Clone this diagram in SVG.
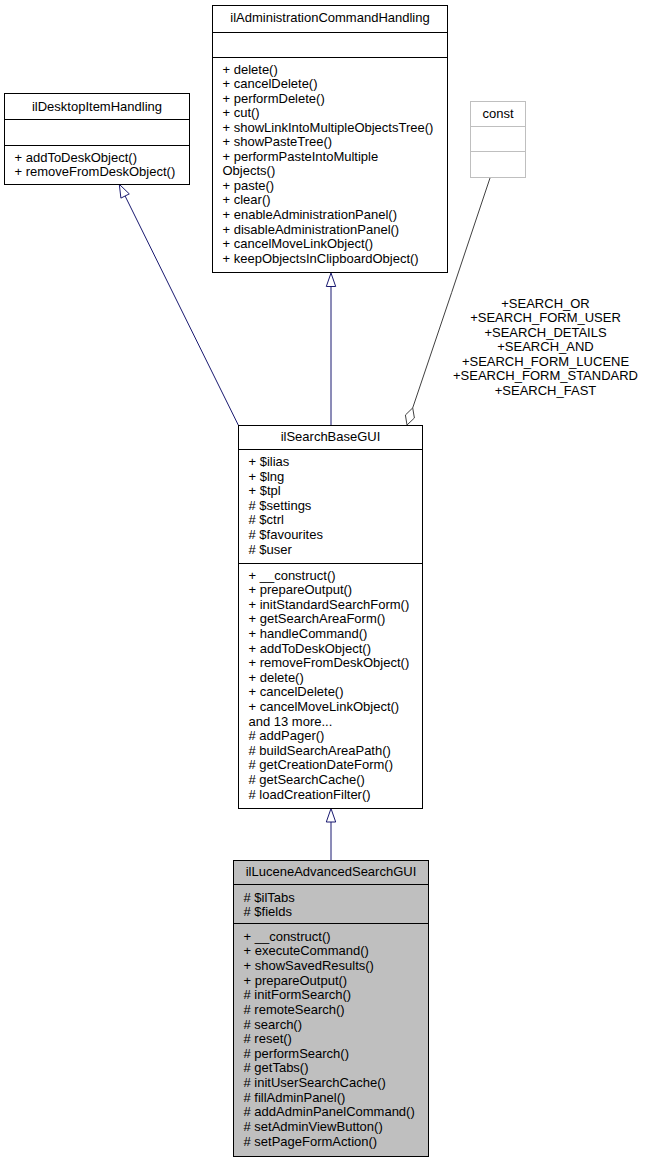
<svg xmlns="http://www.w3.org/2000/svg" width="648" height="1161" viewBox="0 0 648 1161">
<style>
text{font-family:"Liberation Sans",Arial,Helvetica,sans-serif;font-size:13px;fill:#000}
.c{text-anchor:middle}
.box{fill:#fff;stroke:#000;stroke-width:1}
.sep{stroke:#000;stroke-width:1}
.cur{fill:#bfbfbf;stroke:#000;stroke-width:1}
.gbox{fill:#fff;stroke:#bfbfbf;stroke-width:1}
.gsep{stroke:#bfbfbf;stroke-width:1}
.inh{stroke:#191970;stroke-width:1;fill:none}
.inhh{stroke:#191970;stroke-width:1;fill:#fff}
.use{stroke:#404040;stroke-width:1;fill:none}
.useh{stroke:#404040;stroke-width:1;fill:#fff}
</style>
<rect width="648" height="1161" fill="#fff"/>
<g id="connectors">
<line class="inh" x1="331" y1="860.5" x2="331" y2="822"/>
<polygon class="inhh" points="331,808.5 326.3,822 335.7,822"/>
<line class="inh" x1="331" y1="425.5" x2="331" y2="286.5"/>
<polygon class="inhh" points="331,273 326.3,286.5 335.7,286.5"/>
<line class="inh" x1="238.5" y1="425.5" x2="125.1" y2="196"/>
<polygon class="inhh" points="119.3,184.3 129.3,193.9 120.9,198.1"/>
<path class="use" d="M490,178 Q452,292 412.7,407.9"/>
<polygon class="useh" points="407,425 414.4,418 412.7,407.9 405.4,415"/>
<text class="c" x="545.5" y="307.5">+SEARCH_OR</text>
<text class="c" x="545.5" y="322">+SEARCH_FORM_USER</text>
<text class="c" x="545.5" y="336.6">+SEARCH_DETAILS</text>
<text class="c" x="545.5" y="351.1">+SEARCH_AND</text>
<text class="c" x="545.5" y="365.7">+SEARCH_FORM_LUCENE</text>
<text class="c" x="545.5" y="380.2">+SEARCH_FORM_STANDARD</text>
<text class="c" x="545.5" y="394.8">+SEARCH_FAST</text>
</g>
<g id="ilAdministrationCommandHandling">
<rect class="box" x="212.5" y="5.5" width="235" height="267"/>
<line class="sep" x1="212.5" y1="32.5" x2="447.5" y2="32.5"/>
<line class="sep" x1="212.5" y1="57.5" x2="447.5" y2="57.5"/>
<text class="c" x="330" y="22">ilAdministrationCommandHandling</text>
<text x="222.5" y="73.5">+ delete()</text>
<text x="222.5" y="88.05">+ cancelDelete()</text>
<text x="222.5" y="102.6">+ performDelete()</text>
<text x="222.5" y="117.15">+ cut()</text>
<text x="222.5" y="131.7">+ showLinkIntoMultipleObjectsTree()</text>
<text x="222.5" y="146.25">+ showPasteTree()</text>
<text x="222.5" y="160.8">+ performPasteIntoMultiple</text>
<text x="222.5" y="175.35">Objects()</text>
<text x="222.5" y="189.9">+ paste()</text>
<text x="222.5" y="204.45">+ clear()</text>
<text x="222.5" y="219">+ enableAdministrationPanel()</text>
<text x="222.5" y="233.55">+ disableAdministrationPanel()</text>
<text x="222.5" y="248.1">+ cancelMoveLinkObject()</text>
<text x="222.5" y="262.65">+ keepObjectsInClipboardObject()</text>
</g>
<g id="ilDesktopItemHandling">
<rect class="box" x="4.5" y="93.5" width="185" height="91"/>
<line class="sep" x1="4.5" y1="119.5" x2="189.5" y2="119.5"/>
<line class="sep" x1="4.5" y1="145.5" x2="189.5" y2="145.5"/>
<text class="c" x="97" y="110.5">ilDesktopItemHandling</text>
<text x="14.5" y="161.5">+ addToDeskObject()</text>
<text x="14.5" y="176">+ removeFromDeskObject()</text>
</g>
<g id="const">
<rect class="gbox" x="470.5" y="101.5" width="55" height="76"/>
<line class="gsep" x1="470.5" y1="126.5" x2="525.5" y2="126.5"/>
<line class="gsep" x1="470.5" y1="151.5" x2="525.5" y2="151.5"/>
<text class="c" x="498" y="117.5">const</text>
</g>
<g id="ilSearchBaseGUI">
<rect class="box" x="238.5" y="425.5" width="184" height="383"/>
<line class="sep" x1="238.5" y1="449.5" x2="422.5" y2="449.5"/>
<line class="sep" x1="238.5" y1="563.5" x2="422.5" y2="563.5"/>
<text class="c" x="330.5" y="441">ilSearchBaseGUI</text>
<text x="248.5" y="466">+ $ilias</text>
<text x="248.5" y="480.6">+ $lng</text>
<text x="248.5" y="495.2">+ $tpl</text>
<text x="248.5" y="509.8"># $settings</text>
<text x="248.5" y="524.4"># $ctrl</text>
<text x="248.5" y="539"># $favourites</text>
<text x="248.5" y="553.6"># $user</text>
<text x="248.5" y="579.5">+ __construct()</text>
<text x="248.5" y="594.1">+ prepareOutput()</text>
<text x="248.5" y="608.7">+ initStandardSearchForm()</text>
<text x="248.5" y="623.3">+ getSearchAreaForm()</text>
<text x="248.5" y="637.9">+ handleCommand()</text>
<text x="248.5" y="652.5">+ addToDeskObject()</text>
<text x="248.5" y="667.1">+ removeFromDeskObject()</text>
<text x="248.5" y="681.7">+ delete()</text>
<text x="248.5" y="696.3">+ cancelDelete()</text>
<text x="248.5" y="710.9">+ cancelMoveLinkObject()</text>
<text x="248.5" y="725.5">and 13 more...</text>
<text x="248.5" y="740.1"># addPager()</text>
<text x="248.5" y="754.7"># buildSearchAreaPath()</text>
<text x="248.5" y="769.3"># getCreationDateForm()</text>
<text x="248.5" y="783.9"># getSearchCache()</text>
<text x="248.5" y="798.5"># loadCreationFilter()</text>
</g>
<g id="ilLuceneAdvancedSearchGUI">
<rect class="cur" x="233.5" y="860.5" width="195" height="296"/>
<line class="sep" x1="233.5" y1="884.5" x2="428.5" y2="884.5"/>
<line class="sep" x1="233.5" y1="923.5" x2="428.5" y2="923.5"/>
<text class="c" x="331" y="876">ilLuceneAdvancedSearchGUI</text>
<text x="243.5" y="901.5"># $ilTabs</text>
<text x="243.5" y="916"># $fields</text>
<text x="243.5" y="940.7">+ __construct()</text>
<text x="243.5" y="955.34">+ executeCommand()</text>
<text x="243.5" y="969.98">+ showSavedResults()</text>
<text x="243.5" y="984.62">+ prepareOutput()</text>
<text x="243.5" y="999.26"># initFormSearch()</text>
<text x="243.5" y="1013.9"># remoteSearch()</text>
<text x="243.5" y="1028.54"># search()</text>
<text x="243.5" y="1043.18"># reset()</text>
<text x="243.5" y="1057.82"># performSearch()</text>
<text x="243.5" y="1072.46"># getTabs()</text>
<text x="243.5" y="1087.1"># initUserSearchCache()</text>
<text x="243.5" y="1101.74"># fillAdminPanel()</text>
<text x="243.5" y="1116.38"># addAdminPanelCommand()</text>
<text x="243.5" y="1131.02"># setAdminViewButton()</text>
<text x="243.5" y="1145.66"># setPageFormAction()</text>
</g>
</svg>
